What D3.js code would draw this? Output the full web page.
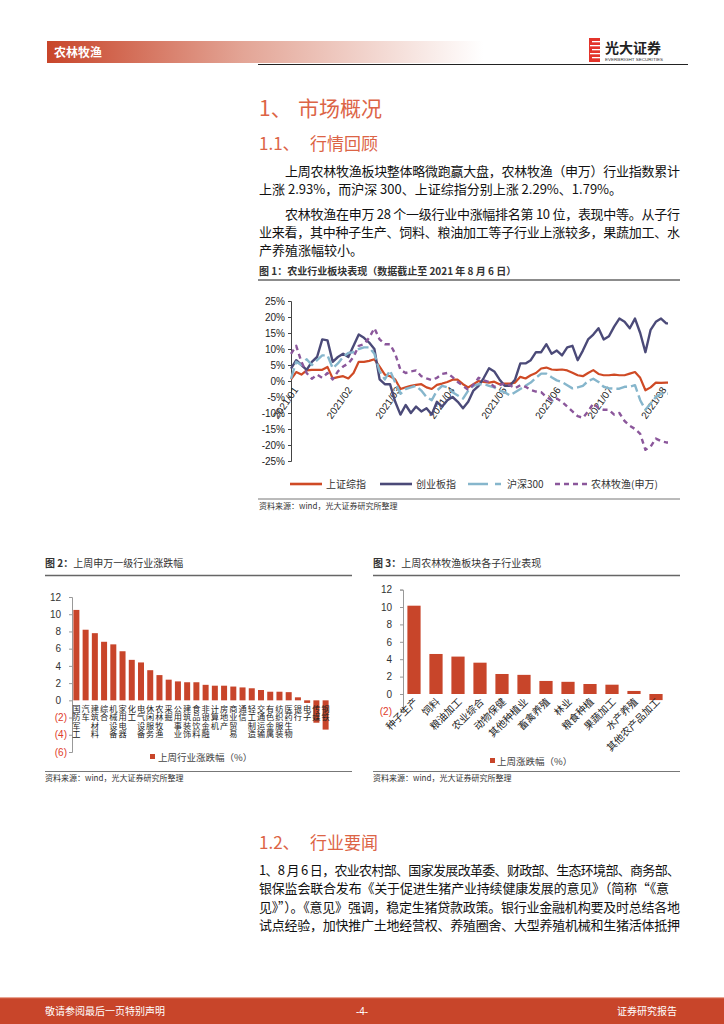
<!DOCTYPE html>
<html>
<head>
<meta charset="utf-8">
<script src="https://cdnjs.cloudflare.com/ajax/libs/d3/7.8.5/d3.min.js"></script>
<style>
body { margin: 0; background: #fff; }
</style>
</head>
<body>
<div id="page"></div>
<script>
// ---- data ----
var lineDates = ["2021-01-01","2021-01-04","2021-01-07","2021-01-10","2021-01-13","2021-01-16","2021-01-19","2021-01-22","2021-01-25","2021-01-28",
  "2021-01-31","2021-02-03","2021-02-06","2021-02-09","2021-02-12","2021-02-15","2021-02-18","2021-02-21","2021-02-24","2021-02-27",
  "2021-03-02","2021-03-05","2021-03-08","2021-03-11","2021-03-14","2021-03-17","2021-03-20","2021-03-23","2021-03-26","2021-03-29",
  "2021-04-01","2021-04-04","2021-04-07","2021-04-10","2021-04-13","2021-04-16","2021-04-19","2021-04-22","2021-04-25","2021-04-28",
  "2021-05-01","2021-05-04","2021-05-07","2021-05-10","2021-05-13","2021-05-16","2021-05-19","2021-05-22","2021-05-25","2021-05-28",
  "2021-05-31","2021-06-03","2021-06-06","2021-06-09","2021-06-12","2021-06-15","2021-06-18","2021-06-21","2021-06-24","2021-06-27",
  "2021-06-30","2021-07-03","2021-07-06","2021-07-09","2021-07-12","2021-07-15","2021-07-18","2021-07-21","2021-07-24","2021-07-27",
  "2021-07-30","2021-08-02","2021-08-05","2021-08-06"];

var shIndex = [0.5,2.8,2.0,3.3,3.5,3.5,3.5,4.4,0.8,1.2,
  1.5,0.8,2.5,6.0,6.0,6.3,6.8,4.5,2.0,1.5,
  0.5,-2.5,-2.0,-1.5,-1.2,-1.0,-2.0,-2.5,-1.2,-0.8,
  -0.3,0.4,0.4,-1.0,-2.0,-1.0,0.0,-0.3,-0.5,-0.2,
  -1.0,-0.8,-0.8,-0.5,1.3,0.8,1.8,2.5,3.9,4.2,
  3.6,3.5,3.6,3.3,2.6,1.8,1.5,2.5,3.4,2.2,
  1.8,1.8,2.0,1.8,1.8,2.3,2.8,1.0,-2.9,-2.0,
  -0.5,-0.6,-0.5,-0.5];

var cybIndex = [3.9,6.5,5.0,3.5,6.0,7.5,13.0,12.7,6.0,7.5,
  8.5,7.5,11.0,14.5,13.5,12.0,10.0,0.5,-1.0,-1.0,
  -6.5,-10.5,-7.5,-10.0,-8.0,-9.5,-8.5,-10.5,-6.5,-8.0,
  -6.0,-5.0,-6.5,-8.5,-6.5,-3.0,-1.5,1.0,4.0,3.0,
  0.5,-1.5,-1.5,0.5,5.5,5.5,6.5,9.0,9.0,11.5,
  8.5,9.5,8.0,10.5,11.0,6.5,9.5,13.0,14.5,16.5,
  13.0,14.0,17.0,19.5,18.5,16.5,19.5,15.0,9.0,16.0,
  18.5,19.5,18.0,18.0];

var hs300Index = [0.7,6.0,5.0,6.8,5.0,6.5,8.0,8.0,4.0,5.5,
  7.5,8.8,9.0,10.0,10.5,10.5,8.5,3.0,0.5,3.3,
  -0.5,-4.0,-2.5,-2.0,-1.5,-3.0,-5.0,-6.0,-3.0,-1.5,
  -2.0,-3.5,-4.5,-5.5,-3.0,-1.5,-1.0,-1.0,-1.5,-2.0,
  -3.0,-3.5,-4.5,-3.5,-2.5,-1.5,-0.5,1.0,2.3,2.3,
  1.2,0.2,-0.3,-1.3,-2.3,-2.0,-1.5,0.0,0.7,-0.3,
  -1.8,-2.3,-2.4,-2.4,-1.8,-1.8,-1.3,-6.0,-9.0,-7.0,
  -5.0,-4.0,-4.0,-4.0];

var nlmyIndex = [8.5,11.0,6.0,2.5,0.7,2.0,1.0,2.5,0.5,3.0,
  4.5,5.5,7.5,11.0,11.5,13.5,16.5,13.0,11.5,11.5,
  8.5,3.5,2.5,3.0,3.3,1.5,0.8,0.3,1.0,2.2,
  2.5,1.2,-0.3,-1.5,-2.8,-1.2,1.0,0.2,-0.3,-1.8,
  -1.3,-0.8,-1.3,-2.3,-1.3,-1.8,-2.8,-3.3,-3.5,-5.0,
  -6.0,-5.5,-6.5,-8.0,-9.5,-11.0,-11.5,-9.5,-7.0,-8.5,
  -9.0,-9.0,-10.5,-10.0,-12.5,-14.0,-15.0,-16.5,-21.5,-20.5,
  -18.0,-18.8,-19.2,-19.2];

var seriesNames = ["上证综指", "创业板指", "沪深300", "农林牧渔(申万)"];
var lineYTicks = [25, 20, 15, 10, 5, 0, -5, -10, -15, -20, -25];

var swNames = ["国防军工","汽车","建筑材料","综合","机械设备","家用电器","化工","电气设备","休闲服务","农林牧渔",
  "采掘","公用事业","建筑装饰","食品饮料","非银金融","计算机","房地产","商业贸易","通信","轻工制造",
  "交通运输","有色金属","纺织服装","医药生物","银行","电子","传媒","钢铁"];
var swChange = [10.5,8.2,7.8,6.8,6.5,5.7,4.7,4.4,3.5,2.93,
  2.4,2.2,2.1,2.1,1.8,1.7,1.7,1.6,1.5,1.4,
  1.2,1.0,1.0,0.95,0.35,-0.3,-2.6,-3.4];
var swTicks = [12, 10, 8, 6, 4, 2, 0, -2, -4, -6];

var subNames = ["种子生产","饲料","粮油加工","农业综合","动物保健","其他种植业","畜禽养殖","林业","粮食种植","果蔬加工","水产养殖","其他农产品加工"];
var subChange = [10.15,4.6,4.3,3.6,2.3,2.2,1.5,1.4,1.15,1.07,0.35,-0.7];
var subTicks = [12, 10, 8, 6, 4, 2, 0, -2];

// ---- page ----
var w = 724, h = 1024;
var red = "#c8452a";
var headRed = "#dc6446";
var cjk = "'Noto Sans CJK SC', sans-serif";
var latin = "'Liberation Sans', Arial, sans-serif";

var svg = d3.select("#page").append("svg")
  .attr("width", w).attr("height", h)
  .style("display", "block")
  .style("font-family", cjk);

svg.append("rect").attr("width", w).attr("height", h).attr("fill", "#fff");

// header band
var defs = svg.append("defs");
var grad = defs.append("linearGradient").attr("id", "headGrad");
grad.append("stop").attr("offset", "0").attr("stop-color", "#c8452a");
grad.append("stop").attr("offset", "0.45").attr("stop-color", "#e3a596");
grad.append("stop").attr("offset", "1").attr("stop-color", "#ffffff");

svg.append("rect").attr("x", 47).attr("y", 41).attr("width", 436).attr("height", 22)
  .attr("fill", "url(#headGrad)");
svg.append("text").attr("x", 54).attr("y", 57).text("农林牧渔")
  .attr("fill", "#fff").attr("font-size", 12).attr("font-weight", "bold");
svg.append("line").attr("x1", 258).attr("x2", 688).attr("y1", 64.5).attr("y2", 64.5)
  .attr("stroke", "#222").attr("stroke-width", 1.2);

// logo
var logo = svg.append("g").attr("transform", "translate(589,38)");
logo.append("rect").attr("width", 11).attr("height", 24).attr("fill", "#e3342b");
[3, 7, 11, 15, 19].forEach(function(yy, i) {
  logo.append("rect").attr("x", i % 2 ? 1 : 3).attr("y", yy).attr("width", 10).attr("height", 1.3).attr("fill", "#fff");
});
logo.append("text").attr("x", 16).attr("y", 15).text("光大证券")
  .attr("font-size", 14).attr("font-weight", "bold").attr("fill", "#222");
logo.append("text").attr("x", 16).attr("y", 22.5).text("EVERBRIGHT SECURITIES")
  .attr("font-size", 4.2).attr("font-family", latin).attr("fill", "#333")
  .attr("textLength", 58).attr("lengthAdjust", "spacingAndGlyphs");

// text helper, justified if width given
function textLine(str, x, y, size, width, opts) {
  opts = opts || {};
  var t = svg.append("text").attr("x", x).attr("y", y).text(str)
    .attr("font-size", size).attr("fill", opts.fill || "#111");
  if (opts.weight) t.attr("font-weight", opts.weight);
  if (width) t.attr("textLength", width).attr("lengthAdjust", "spacing");
  return t;
}

function heading(num, str, y, size, gapX) {
  svg.append("text").attr("x", 259).attr("y", y).text(num)
    .attr("font-size", size).attr("fill", headRed);
  svg.append("text").attr("x", gapX).attr("y", y).text(str)
    .attr("font-size", size).attr("fill", headRed);
}

heading("1、", "市场概况", 116, 21, 298);
heading("1.1、", "行情回顾", 150, 17, 310);
textLine("上周农林牧渔板块整体略微跑赢大盘，农林牧渔（申万）行业指数累计", 285, 176, 13, 395);
textLine("上涨 2.93%，而沪深 300、上证综指分别上涨 2.29%、1.79%。", 259, 194, 13, null);
textLine("农林牧渔在申万 28 个一级行业中涨幅排名第 10 位，表现中等。从子行", 285, 219, 13, 395);
textLine("业来看，其中种子生产、饲料、粮油加工等子行业上涨较多，果蔬加工、水", 259, 237, 13, 421);
textLine("产养殖涨幅较小。", 259, 255, 13, null);

textLine("图 1：农业行业板块表现（数据截止至 2021 年 8 月 6 日）", 259, 275, 10, null, {weight: "bold", fill: "#333"});
svg.append("line").attr("x1", 258).attr("x2", 680).attr("y1", 280).attr("y2", 280)
  .attr("stroke", "#666").attr("stroke-width", 1.5);

// ---- figure 1: line chart ----
var parseDate = d3.timeParse("%Y-%m-%d");
var dates = lineDates.map(parseDate);
var x1 = d3.scaleTime().domain([parseDate("2021-01-01"), parseDate("2021-08-06")]).range([291, 668]);
var y1 = d3.scaleLinear().domain([-25, 25]).range([461, 301]);

var g1 = svg.append("g").style("font-family", latin);

var yAx1 = g1.append("g").attr("transform", "translate(291,0)")
  .call(d3.axisLeft(y1).tickValues(lineYTicks).tickSize(3).tickPadding(3).tickFormat(function(d) { return d + "%"; }));
yAx1.select(".domain").attr("stroke", "#444");
yAx1.selectAll(".tick line").attr("stroke", "#444");
yAx1.selectAll("text").attr("font-size", 10).attr("fill", "#222").attr("font-family", latin);

var months = d3.timeMonth.range(parseDate("2021-01-01"), parseDate("2021-08-06"));
g1.selectAll(".mlab").data(months).enter().append("text")
  .attr("class", "mlab")
  .attr("transform", function(d) { return "translate(" + (x1(d) + 2) + "," + (y1(0) + 5) + ") rotate(-55)"; })
  .attr("text-anchor", "end")
  .attr("dy", "0.7em")
  .attr("font-size", 10).attr("fill", "#222")
  .text(d3.timeFormat("%Y/%m"));

var styles = [
  {color: "#cf4a25", width: 2.2, dash: null},
  {color: "#4b4a78", width: 2.4, dash: null},
  {color: "#86b6cc", width: 2.4, dash: "11,4"},
  {color: "#8b579b", width: 2.4, dash: "5,4"}
];
var allSeries = [shIndex, cybIndex, hs300Index, nlmyIndex];

var line1 = d3.line().x(function(d, i) { return x1(dates[i]); }).y(function(d) { return y1(d); });

allSeries.forEach(function(vals, k) {
  g1.append("path").datum(vals)
    .attr("d", line1)
    .attr("fill", "none")
    .attr("stroke", styles[k].color)
    .attr("stroke-width", styles[k].width)
    .attr("stroke-linejoin", "round")
    .attr("stroke-dasharray", styles[k].dash);
});

// legend
var legX = [290, 380, 468, 555];
var legLen = [32, 32, 35, 32];
seriesNames.forEach(function(name, k) {
  g1.append("line").attr("x1", legX[k]).attr("x2", legX[k] + legLen[k]).attr("y1", 484).attr("y2", 484)
    .attr("stroke", styles[k].color).attr("stroke-width", 2.6)
    .attr("stroke-dasharray", k == 2 ? "20,7,6,7" : styles[k].dash);
  g1.append("text").attr("x", legX[k] + legLen[k] + 4).attr("y", 488).text(name)
    .attr("font-size", 10).attr("fill", "#333").attr("font-family", cjk);
});

svg.append("line").attr("x1", 258).attr("x2", 680).attr("y1", 499).attr("y2", 499)
  .attr("stroke", "#777").attr("stroke-width", 1);
textLine("资料来源：wind，光大证券研究所整理", 259, 509, 8, null, {fill: "#333"});

// ---- figure 2 ----
function figTitle(num, str, x, y, x2) {
  var t = svg.append("text").attr("x", x).attr("y", y).attr("font-size", 10).attr("fill", "#333");
  t.append("tspan").attr("font-weight", "bold").text("图 " + num + "：");
  t.append("tspan").text(str);
  svg.append("line").attr("x1", x).attr("x2", x2).attr("y1", y + 8.5).attr("y2", y + 8.5)
    .attr("stroke", "#666").attr("stroke-width", 1.5);
}
figTitle(2, "上周申万一级行业涨跌幅", 45, 567, 352);
figTitle(3, "上周农林牧渔板块各子行业表现", 373, 567, 680);

function negFmt(d) { return d < 0 ? "(" + (-d) + ")" : d; }

var x2 = d3.scaleBand().domain(swNames).range([72, 330]).paddingInner(0.35).paddingOuter(0.15);
var y2 = d3.scaleLinear().domain([-6, 12]).range([752, 597]);
var g2 = svg.append("g").style("font-family", latin);

g2.selectAll(".bar").data(swChange).enter().append("rect")
  .attr("x", function(d, i) { return x2(swNames[i]); })
  .attr("width", x2.bandwidth())
  .attr("y", function(d) { return y2(Math.max(0, d)); })
  .attr("height", function(d) { return Math.abs(y2(d) - y2(0)); })
  .attr("fill", red);

var yAx2 = g2.append("g").attr("transform", "translate(72,0)")
  .call(d3.axisLeft(y2).tickValues(swTicks).tickSize(3).tickPadding(8).tickFormat(negFmt));
yAx2.select(".domain").attr("stroke", "#999");
yAx2.selectAll(".tick line").attr("stroke", "#999");
yAx2.selectAll("text").attr("font-size", 10).attr("font-family", latin)
  .attr("fill", function(d) { return d < 0 ? "#e03a2a" : "#333"; })
  .attr("dx", function(d) { return d < 0 ? 6 : 0; });

// vertical category names, one label per bar
g2.selectAll(".vlab").data(swNames).enter().append("text")
  .attr("class", "vlab")
  .attr("x", function(d) { return x2(d) + x2.bandwidth() / 2; })
  .attr("y", y2(0) + 4)
  .style("writing-mode", "vertical-rl")
  .style("text-orientation", "upright")
  .attr("letter-spacing", 0.4)
  .attr("font-size", 8.2).attr("fill", "#222")
  .attr("font-family", cjk)
  .text(function(d) { return d; });

g2.append("rect").attr("x", 150).attr("y", 754).attr("width", 5).attr("height", 5).attr("fill", red);
g2.append("text").attr("x", 158).attr("y", 760.5).text("上周行业涨跌幅（%）")
  .attr("font-size", 9.5).attr("fill", "#444").attr("font-family", cjk);

svg.append("line").attr("x1", 45).attr("x2", 352).attr("y1", 771.5).attr("y2", 771.5)
  .attr("stroke", "#777").attr("stroke-width", 1);
textLine("资料来源：wind，光大证券研究所整理", 45, 781, 8, null, {fill: "#333"});

// ---- figure 3 ----
var x3 = d3.scaleBand().domain(subNames).range([403, 667]).paddingInner(0.4).paddingOuter(0.2);
var y3 = d3.scaleLinear().domain([-2, 12]).range([711.4, 589.6]);
var g3 = svg.append("g").style("font-family", latin);

g3.selectAll(".bar").data(subChange).enter().append("rect")
  .attr("x", function(d, i) { return x3(subNames[i]); })
  .attr("width", x3.bandwidth())
  .attr("y", function(d) { return y3(Math.max(0, d)); })
  .attr("height", function(d) { return Math.abs(y3(d) - y3(0)); })
  .attr("fill", red);

var yAx3 = g3.append("g").attr("transform", "translate(403,0)")
  .call(d3.axisLeft(y3).tickValues(subTicks).tickSize(3).tickPadding(8).tickFormat(negFmt));
yAx3.select(".domain").attr("stroke", "#999");
yAx3.selectAll(".tick line").attr("stroke", "#999");
yAx3.selectAll("text").attr("font-size", 10).attr("font-family", latin)
  .attr("fill", function(d) { return d < 0 ? "#e03a2a" : "#333"; });

subNames.forEach(function(name) {
  var cx = x3(name) + x3.bandwidth() / 2;
  g3.append("text")
    .attr("transform", "translate(" + (cx + 2) + "," + (y3(0) + 6) + ") rotate(-45)")
    .attr("text-anchor", "end").attr("dy", "0.35em")
    .attr("font-size", 10).attr("fill", "#222").attr("font-family", cjk)
    .text(name);
});

g3.append("rect").attr("x", 490).attr("y", 758).attr("width", 5).attr("height", 5).attr("fill", red);
g3.append("text").attr("x", 497).attr("y", 764.5).text("上周涨跌幅（%）")
  .attr("font-size", 9.5).attr("fill", "#444").attr("font-family", cjk);

svg.append("line").attr("x1", 373).attr("x2", 680).attr("y1", 771.5).attr("y2", 771.5)
  .attr("stroke", "#777").attr("stroke-width", 1);
textLine("资料来源：wind，光大证券研究所整理", 373, 781, 8, null, {fill: "#333"});

// ---- section 1.2 ----
heading("1.2、", "行业要闻", 849, 17, 310);
textLine("1、8 月 6 日，农业农村部、国家发展改革委、财政部、生态环境部、商务部、", 259, 875, 13, 421);
textLine("银保监会联合发布《关于促进生猪产业持续健康发展的意见》（简称“《意", 259, 893, 13, 410);
textLine("见》”）。《意见》强调，稳定生猪贷款政策。银行业金融机构要及时总结各地", 259, 912, 13, 421);
textLine("试点经验，加快推广土地经营权、养殖圈舍、大型养殖机械和生猪活体抵押", 259, 930, 13, 421);

// ---- footer ----
svg.append("rect").attr("x", 0).attr("y", 998).attr("width", w).attr("height", 26).attr("fill", red);
svg.append("rect").attr("x", 0).attr("y", 997).attr("width", w).attr("height", 1.2).attr("fill", "#e9a493");
svg.append("text").attr("x", 45).attr("y", 1015).text("敬请参阅最后一页特别声明")
  .attr("fill", "#fff").attr("font-size", 10);
svg.append("text").attr("x", 362).attr("y", 1015).text("-4-").attr("text-anchor", "middle")
  .attr("fill", "#fff").attr("font-size", 10).attr("font-family", latin);
svg.append("text").attr("x", 677).attr("y", 1015).text("证券研究报告").attr("text-anchor", "end")
  .attr("fill", "#fff").attr("font-size", 10);
</script>
</body>
</html>
